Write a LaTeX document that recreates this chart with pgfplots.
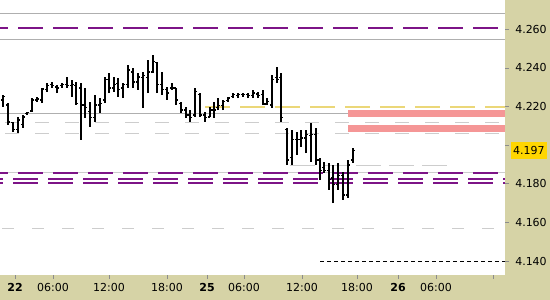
\documentclass[border=0pt]{standalone}
\usepackage{pgfplots}
\pgfplotsset{compat=1.18}
\usepackage{pgfplotstable}
\usepackage{fontspec}
\setmainfont{DejaVu Sans}
\definecolor{khaki}{RGB}{214,211,166}
\definecolor{purp}{RGB}{125,20,135}
\definecolor{pinkb}{RGB}{245,150,150}
\definecolor{ylw}{RGB}{235,215,120}
\definecolor{lgray}{RGB}{205,205,205}
\definecolor{mgray}{RGB}{175,175,175}
\definecolor{gold}{RGB}{255,214,0}

\pgfplotstableread{
x hi lo op cl
3 4.2260 4.2198 4.2234 4.2250
8 4.2218 4.2105 4.2208 4.2120
13 4.2120 4.2068 4.2115 4.2079
18 4.2146 4.2063 4.2079 4.2130
23 4.2156 4.2089 4.2105 4.2146
27 4.2172 4.2156 4.2162 4.2167
32 4.2244 4.2172 4.2177 4.2234
37 4.2250 4.2224 4.2234 4.2239
42 4.2296 4.2218 4.2234 4.2291
47 4.2322 4.2276 4.2286 4.2307
52 4.2327 4.2296 4.2312 4.2307
57 4.2312 4.2270 4.2301 4.2296
62 4.2322 4.2296 4.2307 4.2312
67 4.2353 4.2296 4.2312 4.2307
72 4.2338 4.2250 4.2307 4.2312
76 4.2327 4.2208 4.2307 4.2218
81 4.2322 4.2027 4.2296 4.2208
85 4.2296 4.2141 4.2208 4.2193
90 4.2224 4.2094 4.2172 4.2141
95 4.2260 4.2120 4.2141 4.2208
100 4.2244 4.2167 4.2208 4.2218
105 4.2353 4.2218 4.2234 4.2338
109 4.2374 4.2270 4.2338 4.2296
114 4.2353 4.2276 4.2296 4.2312
118 4.2348 4.2250 4.2317 4.2286
123 4.2322 4.2244 4.2296 4.2312
128 4.2415 4.2296 4.2312 4.2389
133 4.2400 4.2296 4.2379 4.2327
138 4.2374 4.2286 4.2327 4.2353
143 4.2379 4.2193 4.2348 4.2363
148 4.2441 4.2270 4.2348 4.2379
153 4.2467 4.2374 4.2379 4.2431
157 4.2431 4.2270 4.2426 4.2312
162 4.2379 4.2260 4.2312 4.2286
167 4.2301 4.2234 4.2286 4.2270
172 4.2322 4.2286 4.2296 4.2296
176 4.2296 4.2208 4.2296 4.2234
181 4.2224 4.2167 4.2218 4.2182
186 4.2198 4.2141 4.2182 4.2156
190 4.2182 4.2120 4.2156 4.2141
195 4.2296 4.2146 4.2156 4.2276
200 4.2270 4.2146 4.2260 4.2156
205 4.2172 4.2120 4.2156 4.2141
210 4.2198 4.2146 4.2146 4.2182
214 4.2224 4.2141 4.2182 4.2182
218 4.2244 4.2182 4.2193 4.2203
223 4.2234 4.2182 4.2203 4.2224
228 4.2250 4.2224 4.2229 4.2244
233 4.2270 4.2244 4.2250 4.2260
238 4.2270 4.2244 4.2255 4.2260
243 4.2270 4.2250 4.2260 4.2260
248 4.2270 4.2244 4.2260 4.2255
253 4.2286 4.2244 4.2255 4.2270
258 4.2276 4.2244 4.2265 4.2255
263 4.2286 4.2208 4.2260 4.2213
267 4.2244 4.2208 4.2213 4.2224
272 4.2363 4.2193 4.2208 4.2338
277 4.2405 4.2322 4.2348 4.2338
281 4.2374 4.2120 4.2348 4.2141
287 4.2089 4.1897 4.2079 4.1923
292 4.2079 4.1897 4.1934 4.2027
297 4.2068 4.1949 4.2027 4.2027
301 4.2079 4.1991 4.2027 4.2037
306 4.2079 4.1959 4.2037 4.2053
311 4.2115 4.1913 4.2048 4.2053
316 4.2089 4.1897 4.2053 4.1923
320 4.1934 4.1820 4.1923 4.1871
324 4.1913 4.1856 4.1882 4.1871
329 4.1908 4.1768 4.1871 4.1820
333 4.1897 4.1700 4.1830 4.1794
338 4.1908 4.1768 4.1794 4.1845
343 4.1861 4.1716 4.1845 4.1742
348 4.1923 4.1727 4.1742 4.1897
353 4.1986 4.1908 4.1923 4.1970
}\bars

\begin{document}
\begin{tikzpicture}
\useasboundingbox (0,0) rectangle (550pt,300pt);
\fill[khaki] (0,0) rectangle (550pt,300pt);
\begin{axis}[
  at={(0pt,25pt)}, anchor=south west,
  width=505pt, height=275pt, scale only axis,
  xmin=0, xmax=505, ymin=4.13275, ymax=4.27517,
  axis line style={draw=none},
  axis background/.style={fill=white},
  clip=false,
  tick align=outside, major tick length=4pt,
  tick style={color=black!45, line width=0.6pt},
  xtick={15,53,109,167,207,244,302,357,398,436,493},
  xticklabels={\textbf{22},06:00,12:00,18:00,\textbf{25},06:00,12:00,18:00,\textbf{26},06:00,{}},
  ytick={4.14,4.16,4.18,4.20,4.22,4.24,4.26},
  yticklabels={4.140,4.160,4.180,{},4.220,4.240,4.260},
  yticklabel pos=right,
  xticklabel style={anchor=center, yshift=-8pt, font=\fontsize{11}{13}\selectfont},
  yticklabel style={anchor=center, xshift=22pt, font=\fontsize{11}{13}\selectfont},
]
% gray solid lines
\addplot[mgray, line width=0.9pt] coordinates {(0,4.2680) (505,4.2680)};
\addplot[mgray, line width=0.9pt] coordinates {(0,4.2545) (505,4.2545)};
\addplot[mgray, line width=0.9pt] coordinates {(0,4.2162) (505,4.2162)};
% light gray dashed
\addplot[lgray, line width=0.9pt, dash pattern=on 14pt off 16pt, dash phase=25pt] coordinates {(0,4.2115) (505,4.2115)};
\addplot[lgray, line width=0.9pt, dash pattern=on 14pt off 16pt, dash phase=25pt] coordinates {(0,4.2063) (505,4.2063)};
\addplot[lgray, line width=0.9pt, dash pattern=on 12pt off 18pt, dash phase=28pt] coordinates {(0,4.1566) (505,4.1566)};
\addplot[lgray, line width=0.9pt, dash pattern=on 25pt off 8pt] coordinates {(290,4.1897) (450,4.1897)};
\addplot[lgray, line width=0.8pt] coordinates {(0,4.1858) (505,4.1858)};
% pink bands
\addplot[fill=pinkb, draw=none] coordinates {(348,4.2182) (505,4.2182) (505,4.2146) (348,4.2146)} -- cycle;
\addplot[fill=pinkb, draw=none] coordinates {(348,4.2105) (505,4.2105) (505,4.2068) (348,4.2068)} -- cycle;
% yellow dashed
\addplot[ylw, line width=1.2pt, dash pattern=on 25pt off 10pt] coordinates {(205,4.2198) (505,4.2198)};
% purple dashed
\addplot[purp, line width=1.2pt, dash pattern=on 25pt off 10pt, dash phase=16.7pt] coordinates {(0,4.2607) (505,4.2607)};
\addplot[purp, line width=1.2pt, dash pattern=on 25pt off 10pt, dash phase=16.7pt] coordinates {(0,4.1856) (505,4.1856)};
\addplot[purp, line width=1.2pt, dash pattern=on 25pt off 10pt, dash phase=21.7pt] coordinates {(0,4.1825) (505,4.1825)};
\addplot[purp, line width=1.2pt, dash pattern=on 25pt off 10pt, dash phase=21.7pt] coordinates {(0,4.1804) (505,4.1804)};
% black dashed
\addplot[black, line width=0.9pt, dash pattern=on 4pt off 3pt] coordinates {(320,4.1400) (505,4.1400)};
% OHLC bars
\addplot[draw=none, no markers, error bars/.cd, y dir=plus, y explicit, error mark=none,
  error bar style={draw=black, solid, line width=1.1pt}]
  table[x=x, y=lo, y error expr=\thisrow{hi}-\thisrow{lo}] {\bars};
\addplot[draw=none, no markers, error bars/.cd, x dir=minus, x fixed=2.2, error mark=none,
  error bar style={draw=black, solid, line width=1.1pt}]
  table[x=x, y=op] {\bars};
\addplot[draw=none, no markers, error bars/.cd, x dir=plus, x fixed=2.2, error mark=none,
  error bar style={draw=black, solid, line width=1.1pt}]
  table[x=x, y=cl] {\bars};
% last price box
\node[fill=gold, anchor=west, inner xsep=2pt, inner ysep=0pt, minimum height=17pt, font=\fontsize{11}{13}\selectfont] at (axis cs:511,4.1970) {4.197};
\end{axis}
\end{tikzpicture}
\end{document}
